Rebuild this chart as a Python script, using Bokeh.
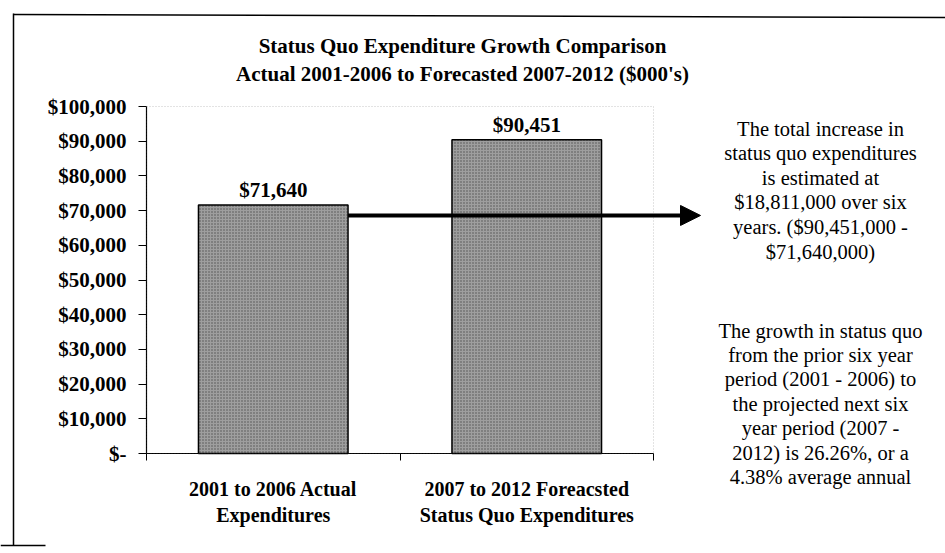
from bokeh.plotting import figure
from bokeh.models import Range1d, FixedTicker, Label, Arrow, NormalHead, ColumnDataSource, BoxAnnotation
from bokeh.core.properties import value
from bokeh.embed import file_html
from bokeh.resources import INLINE

# ---- data ----
categories = ["2001 to 2006 Actual\nExpenditures", "2007 to 2012 Foreacsted\nStatus Quo Expenditures"]
cat_pos = [1, 2]
expenditures = [71640, 90451]
bar_labels = ["$71,640", "$90,451"]
y_ticks = [0, 10000, 20000, 30000, 40000, 50000, 60000, 70000, 80000, 90000, 100000]
title_lines = ["Status Quo Expenditure Growth Comparison",
               "Actual 2001-2006 to Forecasted 2007-2012 ($000's)"]
note_para1 = ["The total increase in", "status quo expenditures", "is estimated at",
              "$18,811,000 over six", "years. ($90,451,000 -", "$71,640,000)"]
note_para2 = ["The growth in status quo", "from the prior six year", "period (2001 - 2006) to",
              "the projected next six", "year period (2007 -", "2012) is 26.26%, or a",
              "4.38% average annual"]
arrow_level = 68600

SERIF = value("Liberation Serif")

# ---- layout (page pixels) ----
W, H = 945, 553
FL, FR, FT, FB = 146, 653, 106, 453   # plot-area box in pixels
PX_PER_CAT = (FR - FL) / 2.0
PX_PER_Y = (FB - FT) / 100000.0


def dx(px):
    return 0.5 + (px - FL) / PX_PER_CAT


def dy(py):
    return (FB - py) / PX_PER_Y


p = figure(width=W, height=H, output_backend="svg", toolbar_location=None,
           x_range=Range1d(dx(0), dx(W)), y_range=Range1d(dy(H), dy(0)),
           min_border=0, min_border_left=0, min_border_right=0,
           min_border_top=0, min_border_bottom=0)
p.background_fill_color = "white"
p.border_fill_color = "white"
p.outline_line_color = None
p.xgrid.visible = False
p.ygrid.visible = False

# plot-area dotted border (top / right)
p.add_layout(BoxAnnotation(left=0.5, right=2.5, bottom=0, top=100000,
                           fill_color=None, line_color="#444444", line_dash="1 2",
                           line_width=1))

src = ColumnDataSource(dict(x=cat_pos, top=expenditures, lab=bar_labels))
p.vbar(x="x", top="top", width=0.59, source=src, fill_color="#9e9e9e",
       hatch_pattern="dot", hatch_color="#505050", hatch_scale=3, hatch_weight=1,
       line_color="black", line_width=1.5)
p.text(x="x", y="top", text="lab", source=src, text_align="center",
       text_baseline="bottom", y_offset=-3, text_font=SERIF,
       text_font_style="bold", text_font_size="21px", text_color="black")

# axes (fixed inside the canvas)
xa = p.xaxis[0]
xa.fixed_location = 0
xa.bounds = (0.5, 2.5)
xa.ticker = FixedTicker(ticks=cat_pos, minor_ticks=[0.5, 1.5, 2.5])
xa.major_label_overrides = {k: v for k, v in zip(cat_pos, categories)}
xa.major_tick_line_color = None
xa.minor_tick_line_color = "black"
xa.minor_tick_in = 0
xa.minor_tick_out = 7
xa.axis_line_color = "black"
xa.axis_line_width = 1.2
xa.major_label_standoff = 17
xa.major_label_text_font = "Liberation Serif"
xa.major_label_text_font_style = "bold"
xa.major_label_text_font_size = "20px"
xa.major_label_text_color = "black"

ya = p.yaxis[0]
ya.fixed_location = 0.5
ya.bounds = (0, 100000)
ya.ticker = FixedTicker(ticks=y_ticks, minor_ticks=[])
ya.major_label_overrides = {t: ("$-" if t == 0 else f"${t:,}") for t in y_ticks}
ya.major_tick_in = 0
ya.major_tick_out = 8
ya.major_tick_line_color = "black"
ya.axis_line_color = "black"
ya.axis_line_width = 1.2
ya.major_label_standoff = 12
ya.major_label_text_font = "Liberation Serif"
ya.major_label_text_font_style = "bold"
ya.major_label_text_font_size = "21px"
ya.major_label_text_color = "black"

# title
for i, t in enumerate(title_lines):
    p.add_layout(Label(x=dx(462), y=dy(45 + 28 * i), text=t, text_align="center",
                       text_baseline="middle", text_font="Liberation Serif",
                       text_font_style="bold", text_font_size="21px", text_color="black"))

# arrow
p.add_layout(Arrow(x_start=cat_pos[0] + 0.295, y_start=arrow_level, x_end=dx(700), y_end=arrow_level,
                   line_width=4, line_color="black",
                   end=NormalHead(size=20, fill_color="black", line_color="black")))

# notes
for i, t in enumerate(note_para1):
    p.add_layout(Label(x=dx(820), y=dy(128 + 24.6 * i), text=t, text_align="center",
                       text_baseline="middle", text_font="Liberation Serif",
                       text_font_size="20.5px", text_color="black"))
for i, t in enumerate(note_para2):
    p.add_layout(Label(x=dx(820), y=dy(330 + 24.4 * i), text=t, text_align="center",
                       text_baseline="middle", text_font="Liberation Serif",
                       text_font_size="20.5px", text_color="black"))

# outer frame lines of the chart area
edges = [(13, 13, 13, 545), (13, 14, 945, 17), (0, 545, 45, 545)]
p.segment(x0=[dx(e[0]) for e in edges], y0=[dy(e[1]) for e in edges],
          x1=[dx(e[2]) for e in edges], y1=[dy(e[3]) for e in edges],
          line_color="black", line_width=1.5)

open("out.html", "w").write(file_html(p, INLINE))
